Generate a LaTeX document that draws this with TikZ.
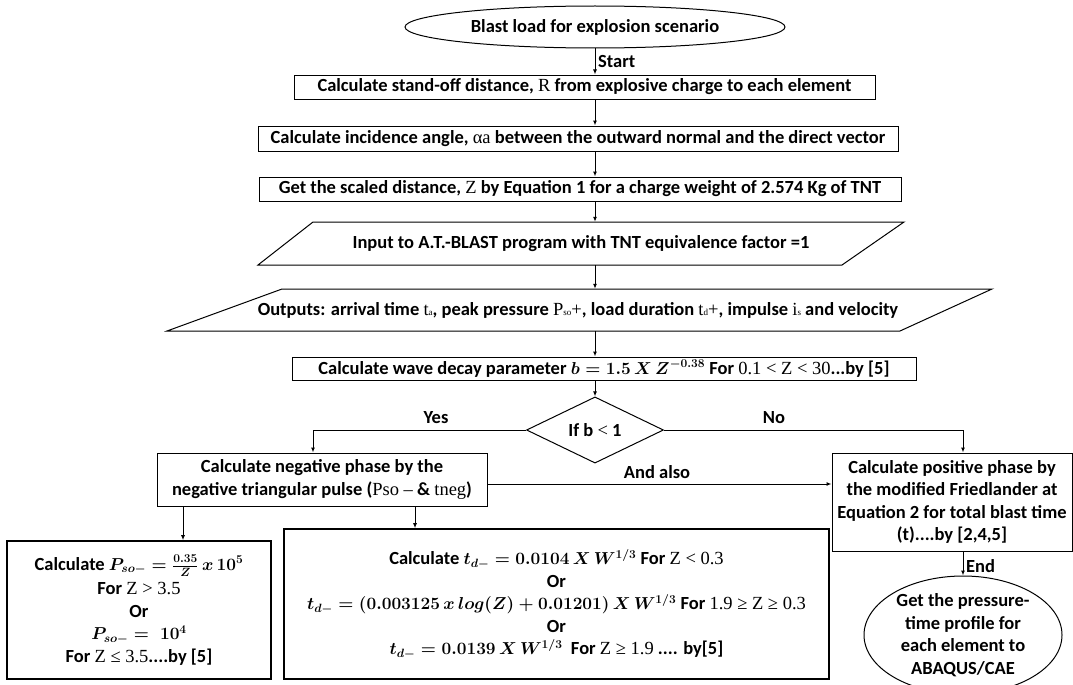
\documentclass[tikz,border=0pt]{standalone}
\usepackage[no-math]{fontspec}
\setmainfont{Carlito}
\newfontfamily\ser{Liberation Serif}
\usetikzlibrary{shapes.geometric,arrows.meta,calc}
\newcommand{\sr}[1]{{\ser\mdseries #1}}
\newcommand{\bmth}[1]{{\boldmath$#1$}}
\begin{document}
\begin{tikzpicture}[x=1pt,y=-1pt,
  every node/.style={font=\fontsize{18.5}{22.5}\selectfont\bfseries},
  box/.style={draw, line width=1pt, rectangle, inner sep=0pt, align=center},
  thickbox/.style={box, line width=1.6pt},
  ell/.style={draw, line width=1pt, ellipse, inner sep=0pt, align=center},
  dia/.style={draw, line width=1pt, diamond, inner sep=0pt, align=center},
  txt/.style={inner sep=0pt, align=center},
  lbl/.style={inner sep=1pt},
  arr/.style={line width=1pt, -{Latex[length=5pt,width=4pt]}},
  edge/.style={line width=1pt}]
\useasboundingbox (0,0) rectangle (1073,685);

\node[ell, minimum width=380pt, minimum height=42pt] (e1) at (595,27) {Blast load for explosion scenario};
\node[box, minimum width=581pt, minimum height=24pt] (b1) at (584.5,87) {Calculate stand-off distance, \sr{R} from explosive charge to each element};
\node[box, minimum width=640pt, minimum height=25pt] (b2) at (578,138.5) {Calculate incidence angle, \sr{αa} between the outward normal and the direct vector};
\node[box, minimum width=642pt, minimum height=24pt] (b3) at (580,189) {Get the scaled distance, \sr{Z} by Equation 1 for a charge weight of 2.574 Kg of TNT};

\node[txt, minimum width=500pt, minimum height=43pt] (p1) at (581,243.5) {Input to A.T.-BLAST program with TNT equivalence factor =1};
\draw[edge] (313,222) -- (904,222) -- (842,265) -- (258,265) -- cycle;

\node[txt, minimum width=600pt, minimum height=42pt] (p2) at (578,310) {Outputs: arrival time \sr{t{\small a}}, peak pressure \sr{P{\small so}+}, load duration \sr{t{\small d}+}, impulse \sr{i{\small s}} and velocity};
\draw[edge] (282,289) -- (992,289) -- (900,331) -- (167,331) -- cycle;

\node[box, minimum width=624pt, minimum height=23pt] (b4) at (604,368.5) {Calculate wave decay parameter \bmth{b = 1.5\,X\,Z^{-0.38}} For \sr{0.1 < Z < 30}...by [5]};

\node[dia, minimum width=137pt, minimum height=66pt] (d) at (595,430) {If b {\ser\mdseries<} 1};

\node[box, minimum width=330pt, minimum height=53pt] (b5) at (322,479.5) {Calculate negative phase by the\\negative triangular pulse (\sr{Pso –} \& \sr{tneg})};
\node[box, minimum width=240pt, minimum height=98pt] (b6) at (952,502) {Calculate positive phase by\\the modified Friedlander at\\Equation 2 for total blast time\\(t)....by [2,4,5]};
\node[ell, minimum width=198pt, minimum height=118pt] (e2) at (963,635) {Get the pressure-\\time profile for\\each element to\\ABAQUS/CAE};

\node[thickbox, minimum width=264pt, minimum height=138pt] (b7) at (139,610) {Calculate \bmth{P_{so-} = \frac{0.35}{Z}\,x\,10^5}\\[2pt]For \sr{Z > 3.5}\\Or\\\bmth{P_{so-} =\; 10^4}\\For \sr{Z ≤ 3.5}....by [5]};
\node[thickbox, minimum width=545pt, minimum height=150pt] (b8) at (556.5,604) {Calculate \bmth{t_{d-} = 0.0104\,X\,W^{1/3}} For \sr{Z < 0.3}\\Or\\\bmth{t_{d-} = (0.003125\,x\,log(Z) + 0.01201)\,X\,W^{1/3}} For \sr{1.9 ≥ Z ≥ 0.3}\\Or\\\bmth{t_{d-} = 0.0139\,X\,W^{1/3}}\ \ For \sr{Z ≥ 1.9} .... by[5]};

% connectors
\draw[arr] (e1.south) -- (e1.south |- b1.north);
\node[lbl, anchor=west] (lstart) at (597,62) {Start};
\draw[arr] (b1.south -| e1.south) -- (b2.north -| e1.south);
\draw[arr] (b2.south -| e1.south) -- (b3.north -| e1.south);
\draw[arr] (b3.south -| e1.south) -- (p1.north -| e1.south);
\draw[arr] (p1.south -| e1.south) -- (p2.north -| e1.south);
\draw[arr] (p2.south -| e1.south) -- (b4.north -| e1.south);
\draw[arr] (b4.south -| d.north) -- (d.north);

\draw[arr] (d.west) -| ([xshift=-9pt]b5.north);
\node[lbl] (lyes) at (436,418) {Yes};
\draw[arr] (d.east) -| ([xshift=11pt]b6.north);
\node[lbl] (lno) at (774,418) {No};
\draw[arr] ([yshift=-4.5pt]b5.east) -- ([yshift=-4.5pt]b5.east -| b6.west);
\node[lbl] (lalso) at (657,472) {And also};

\draw[arr] ([xshift=-139pt]b5.south) -- ([xshift=-139pt]b5.south |- b7.north);
\draw[arr] ([xshift=93pt]b5.south) -- ([xshift=93pt]b5.south |- b8.north);
\draw[arr] ([xshift=11pt]b6.south) -- ([xshift=11pt]b6.south |- e2.north);
\node[lbl, anchor=west] (lend) at (965,566) {End};
\end{tikzpicture}
\end{document}
